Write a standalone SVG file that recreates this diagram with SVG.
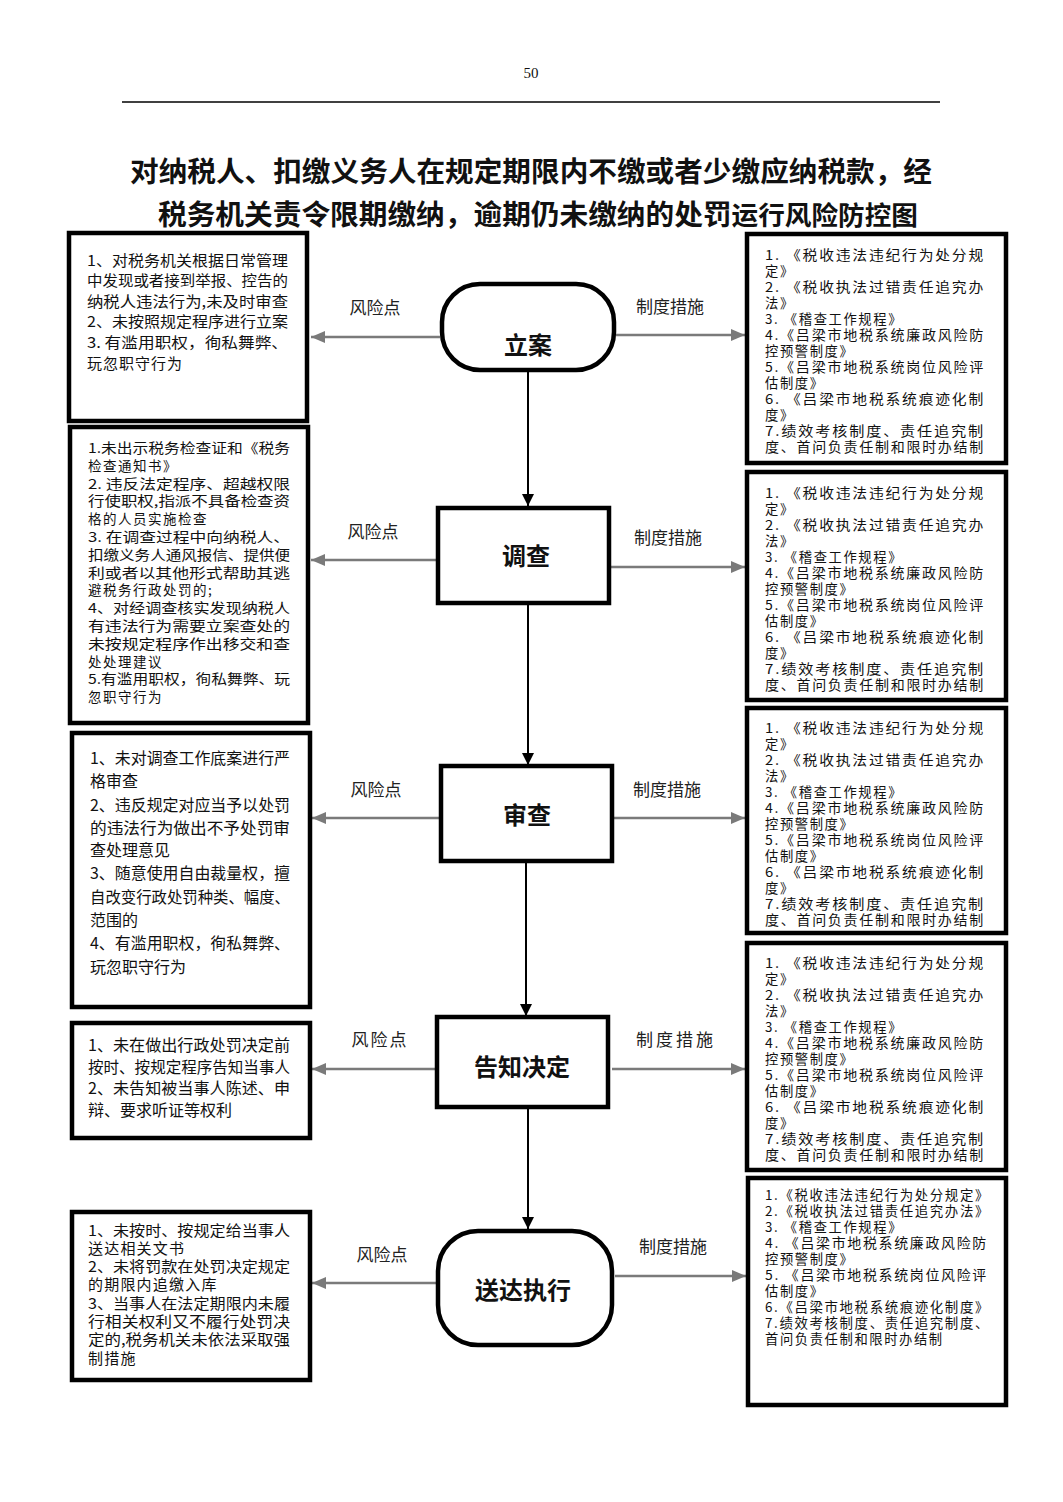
<svg xmlns="http://www.w3.org/2000/svg" width="1063" height="1502" viewBox="0 0 1063 1502">
<style>
.bg{fill:#fff}
.box{fill:#fff;stroke:#000;stroke-width:4.5}
.node{fill:#fff;stroke:#000;stroke-width:4.5}
.cjk{font-family:"Noto Sans CJK SC","Noto Sans",sans-serif;fill:#111}
.t135{font-size:13.5px}
.t15{font-size:15px}
.t16{font-size:16px}
.pol{font-size:13.3px;letter-spacing:1.6px}
.lbl{font-size:17px;fill:#222;text-anchor:middle}
.nt{font-size:24px;font-weight:bold;text-anchor:middle}
.title{font-size:28px;font-weight:bold;text-anchor:middle}
.flow{stroke:#000;stroke-width:2;fill:none;marker-end:url(#ab)}
.side{stroke:#7a7a7a;stroke-width:2.5;fill:none;marker-end:url(#ag)}
</style>
<defs>
<marker id="ab" markerUnits="userSpaceOnUse" markerWidth="12" markerHeight="12" refX="12" refY="6" orient="auto"><path d="M0,0 L12,6 L0,12 z" fill="#000"/></marker>
<marker id="ag" markerUnits="userSpaceOnUse" markerWidth="14" markerHeight="12" refX="14" refY="6" orient="auto"><path d="M0,0 L14,6 L0,12 z" fill="#7a7a7a"/></marker>
</defs>
<rect class="bg" x="0" y="0" width="1063" height="1502"/>

<g id="header">
<text x="531" y="78" font-family="Liberation Serif,serif" font-size="15" text-anchor="middle" fill="#111">50</text>
<line x1="122" y1="102" x2="940" y2="102" stroke="#000" stroke-width="1.5"/>
</g>

<g id="title" class="cjk title">
<text x="531" y="182" textLength="802" lengthAdjust="spacingAndGlyphs">对纳税人、扣缴义务人在规定期限内不缴或者少缴应纳税款，经</text>
<text x="538" y="225" textLength="760" lengthAdjust="spacingAndGlyphs">税务机关责令限期缴纳，逾期仍未缴纳的处罚<tspan font-size="26">运行风险防控图</tspan></text>
</g>

<g id="connectors">
<line class="flow" x1="528" y1="372" x2="528" y2="506"/>
<line class="flow" x1="528" y1="605" x2="528" y2="765"/>
<line class="flow" x1="526" y1="863" x2="526" y2="1016"/>
<line class="flow" x1="528" y1="1109" x2="528" y2="1229"/>
<line class="side" x1="440" y1="337" x2="311" y2="337"/>
<line class="side" x1="616" y1="335" x2="745" y2="335"/>
<line class="side" x1="436" y1="560" x2="311" y2="560"/>
<line class="side" x1="611" y1="567" x2="745" y2="567"/>
<line class="side" x1="439" y1="818" x2="312" y2="818"/>
<line class="side" x1="614" y1="818" x2="745" y2="818"/>
<line class="side" x1="435" y1="1069" x2="312" y2="1069"/>
<line class="side" x1="612" y1="1069" x2="745" y2="1069"/>
<line class="side" x1="438" y1="1283" x2="312" y2="1283"/>
<line class="side" x1="615" y1="1276" x2="746" y2="1276"/>
<g class="cjk lbl">
<text x="375" y="314">风险点</text>
<text x="670" y="313">制度措施</text>
<text x="373" y="538">风险点</text>
<text x="668" y="544">制度措施</text>
<text x="376" y="796">风险点</text>
<text x="667" y="796">制度措施</text>
<text x="380" y="1046" letter-spacing="2">风险点</text>
<text x="676" y="1046" letter-spacing="3">制度措施</text>
<text x="382" y="1261">风险点</text>
<text x="673" y="1253">制度措施</text>
</g>
</g>

<g id="n-lian">
<rect class="node" x="442" y="284" width="172" height="86" rx="38" ry="38"/>
<text class="cjk nt" x="528" y="354">立案</text>
</g>
<g id="n-diaocha">
<rect class="node" x="438" y="508" width="171" height="95"/>
<text class="cjk nt" x="526" y="565">调查</text>
</g>
<g id="n-shencha">
<rect class="node" x="441" y="766" width="171" height="95"/>
<text class="cjk nt" x="527" y="824">审查</text>
</g>
<g id="n-gaozhi">
<rect class="node" x="437" y="1017" width="171" height="90"/>
<text class="cjk nt" x="522" y="1076">告知决定</text>
</g>
<g id="n-songda">
<rect class="node" x="438" y="1231" width="174" height="114" rx="40" ry="40"/>
<text class="cjk nt" x="523" y="1299">送达执行</text>
</g>

<g id="risk1">
<rect class="box" x="69" y="233" width="238" height="188"/>
<g class="cjk t15">
<text x="87" y="265.5" textLength="201" lengthAdjust="spacingAndGlyphs">1、对税务机关根据日常管理</text>
<text x="87" y="286.1" textLength="201" lengthAdjust="spacingAndGlyphs">中发现或者接到举报、控告的</text>
<text x="87" y="306.7" textLength="201" lengthAdjust="spacingAndGlyphs">纳税人违法行为,未及时审查</text>
<text x="87" y="327.3" textLength="201" lengthAdjust="spacingAndGlyphs">2、未按照规定程序进行立案</text>
<text x="87" y="347.9" textLength="201" lengthAdjust="spacingAndGlyphs">3. 有滥用职权，徇私舞弊、</text>
<text x="87" y="368.5" letter-spacing="1">玩忽职守行为</text>
</g>
</g>

<g id="risk2">
<rect class="box" x="70" y="427" width="238" height="296"/>
<g class="cjk t135">
<text x="88" y="453" textLength="202" lengthAdjust="spacingAndGlyphs">1.未出示税务检查证和《税务</text>
<text x="88" y="470.8" letter-spacing="1.5">检查通知书》</text>
<text x="88" y="488.6" textLength="202" lengthAdjust="spacingAndGlyphs">2.  违反法定程序、超越权限</text>
<text x="88" y="506.4" textLength="202" lengthAdjust="spacingAndGlyphs">行使职权,指派不具备检查资</text>
<text x="88" y="524.2" letter-spacing="1.5">格的人员实施检查</text>
<text x="88" y="542" textLength="202" lengthAdjust="spacingAndGlyphs">3.  在调查过程中向纳税人、</text>
<text x="88" y="559.8" textLength="202" lengthAdjust="spacingAndGlyphs">扣缴义务人通风报信、提供便</text>
<text x="88" y="577.6" textLength="202" lengthAdjust="spacingAndGlyphs">利或者以其他形式帮助其逃</text>
<text x="88" y="595.4" letter-spacing="1.5">避税务行政处罚的;</text>
<text x="88" y="613.2" textLength="202" lengthAdjust="spacingAndGlyphs">4、对经调查核实发现纳税人</text>
<text x="88" y="631" textLength="202" lengthAdjust="spacingAndGlyphs">有违法行为需要立案查处的</text>
<text x="88" y="648.8" textLength="202" lengthAdjust="spacingAndGlyphs">未按规定程序作出移交和查</text>
<text x="88" y="666.6" letter-spacing="1.5">处处理建议</text>
<text x="88" y="684.4" textLength="202" lengthAdjust="spacingAndGlyphs">5.有滥用职权，徇私舞弊、玩</text>
<text x="88" y="702.2" letter-spacing="1.5">忽职守行为</text>
</g>
</g>

<g id="risk3">
<rect class="box" x="72" y="733" width="238" height="274"/>
<g class="cjk t16">
<text x="90" y="764" textLength="200" lengthAdjust="spacingAndGlyphs">1、未对调查工作底案进行严</text>
<text x="90" y="787">格审查</text>
<text x="90" y="811" textLength="200" lengthAdjust="spacingAndGlyphs">2、违反规定对应当予以处罚</text>
<text x="90" y="834" textLength="200" lengthAdjust="spacingAndGlyphs">的违法行为做出不予处罚审</text>
<text x="90" y="856">查处理意见</text>
<text x="90" y="879" textLength="200" lengthAdjust="spacingAndGlyphs">3、随意使用自由裁量权，擅</text>
<text x="90" y="903" textLength="200" lengthAdjust="spacingAndGlyphs">自改变行政处罚种类、幅度、</text>
<text x="90" y="926">范围的</text>
<text x="90" y="949" textLength="200" lengthAdjust="spacingAndGlyphs">4、有滥用职权，徇私舞弊、</text>
<text x="90" y="973">玩忽职守行为</text>
</g>
</g>

<g id="risk4">
<rect class="box" x="72" y="1023" width="238" height="115"/>
<g class="cjk t16">
<text x="88" y="1051" textLength="202" lengthAdjust="spacingAndGlyphs">1、未在做出行政处罚决定前</text>
<text x="88" y="1073" textLength="202" lengthAdjust="spacingAndGlyphs">按时、按规定程序告知当事人</text>
<text x="88" y="1094" textLength="202" lengthAdjust="spacingAndGlyphs">2、未告知被当事人陈述、申</text>
<text x="88" y="1116">辩、要求听证等权利</text>
</g>
</g>

<g id="risk5">
<rect class="box" x="72" y="1212" width="238" height="168"/>
<g class="cjk t15">
<text x="88" y="1235.5" textLength="202" lengthAdjust="spacingAndGlyphs">1、未按时、按规定给当事人</text>
<text x="88" y="1253.8" letter-spacing="1.2">送达相关文书</text>
<text x="88" y="1272.1" textLength="202" lengthAdjust="spacingAndGlyphs">2、未将罚款在处罚决定规定</text>
<text x="88" y="1290.4" letter-spacing="1.2">的期限内追缴入库</text>
<text x="88" y="1308.7" textLength="202" lengthAdjust="spacingAndGlyphs">3、当事人在法定期限内未履</text>
<text x="88" y="1327" textLength="202" lengthAdjust="spacingAndGlyphs">行相关权利又不履行处罚决</text>
<text x="88" y="1345.3" textLength="202" lengthAdjust="spacingAndGlyphs">定的,税务机关未依法采取强</text>
<text x="88" y="1363.6" letter-spacing="1.2">制措施</text>
</g>
</g>

<g id="policy1">
<rect class="box" x="747" y="234" width="259" height="229"/>
<g class="cjk pol">
<text x="765" y="260" textLength="220" lengthAdjust="spacingAndGlyphs">1. 《税收违法违纪行为处分规</text>
<text x="765" y="276">定》</text>
<text x="765" y="292" textLength="220" lengthAdjust="spacingAndGlyphs">2. 《税收执法过错责任追究办</text>
<text x="765" y="308">法》</text>
<text x="765" y="324">3. 《稽查工作规程》</text>
<text x="765" y="340" textLength="220" lengthAdjust="spacingAndGlyphs">4.《吕梁市地税系统廉政风险防</text>
<text x="765" y="356">控预警制度》</text>
<text x="765" y="372" textLength="220" lengthAdjust="spacingAndGlyphs">5.《吕梁市地税系统岗位风险评</text>
<text x="765" y="388">估制度》</text>
<text x="765" y="404" textLength="220" lengthAdjust="spacingAndGlyphs">6. 《吕梁市地税系统痕迹化制</text>
<text x="765" y="420">度》</text>
<text x="765" y="436" textLength="220" lengthAdjust="spacingAndGlyphs">7.绩效考核制度、责任追究制</text>
<text x="765" y="452" textLength="220" lengthAdjust="spacingAndGlyphs">度、首问负责任制和限时办结制</text>
</g>
</g>

<g id="policy2">
<rect class="box" x="747" y="472" width="259" height="228"/>
<g class="cjk pol">
<text x="765" y="498" textLength="220" lengthAdjust="spacingAndGlyphs">1. 《税收违法违纪行为处分规</text>
<text x="765" y="514">定》</text>
<text x="765" y="530" textLength="220" lengthAdjust="spacingAndGlyphs">2. 《税收执法过错责任追究办</text>
<text x="765" y="546">法》</text>
<text x="765" y="562">3. 《稽查工作规程》</text>
<text x="765" y="578" textLength="220" lengthAdjust="spacingAndGlyphs">4.《吕梁市地税系统廉政风险防</text>
<text x="765" y="594">控预警制度》</text>
<text x="765" y="610" textLength="220" lengthAdjust="spacingAndGlyphs">5.《吕梁市地税系统岗位风险评</text>
<text x="765" y="626">估制度》</text>
<text x="765" y="642" textLength="220" lengthAdjust="spacingAndGlyphs">6. 《吕梁市地税系统痕迹化制</text>
<text x="765" y="658">度》</text>
<text x="765" y="674" textLength="220" lengthAdjust="spacingAndGlyphs">7.绩效考核制度、责任追究制</text>
<text x="765" y="690" textLength="220" lengthAdjust="spacingAndGlyphs">度、首问负责任制和限时办结制</text>
</g>
</g>

<g id="policy3">
<rect class="box" x="747" y="708" width="259" height="225"/>
<g class="cjk pol">
<text x="765" y="733" textLength="220" lengthAdjust="spacingAndGlyphs">1. 《税收违法违纪行为处分规</text>
<text x="765" y="749">定》</text>
<text x="765" y="765" textLength="220" lengthAdjust="spacingAndGlyphs">2. 《税收执法过错责任追究办</text>
<text x="765" y="781">法》</text>
<text x="765" y="797">3. 《稽查工作规程》</text>
<text x="765" y="813" textLength="220" lengthAdjust="spacingAndGlyphs">4.《吕梁市地税系统廉政风险防</text>
<text x="765" y="829">控预警制度》</text>
<text x="765" y="845" textLength="220" lengthAdjust="spacingAndGlyphs">5.《吕梁市地税系统岗位风险评</text>
<text x="765" y="861">估制度》</text>
<text x="765" y="877" textLength="220" lengthAdjust="spacingAndGlyphs">6. 《吕梁市地税系统痕迹化制</text>
<text x="765" y="893">度》</text>
<text x="765" y="909" textLength="220" lengthAdjust="spacingAndGlyphs">7.绩效考核制度、责任追究制</text>
<text x="765" y="925" textLength="220" lengthAdjust="spacingAndGlyphs">度、首问负责任制和限时办结制</text>
</g>
</g>

<g id="policy4">
<rect class="box" x="747" y="943" width="259" height="227"/>
<g class="cjk pol">
<text x="765" y="968" textLength="220" lengthAdjust="spacingAndGlyphs">1. 《税收违法违纪行为处分规</text>
<text x="765" y="984">定》</text>
<text x="765" y="1000" textLength="220" lengthAdjust="spacingAndGlyphs">2. 《税收执法过错责任追究办</text>
<text x="765" y="1016">法》</text>
<text x="765" y="1032">3. 《稽查工作规程》</text>
<text x="765" y="1048" textLength="220" lengthAdjust="spacingAndGlyphs">4.《吕梁市地税系统廉政风险防</text>
<text x="765" y="1064">控预警制度》</text>
<text x="765" y="1080" textLength="220" lengthAdjust="spacingAndGlyphs">5.《吕梁市地税系统岗位风险评</text>
<text x="765" y="1096">估制度》</text>
<text x="765" y="1112" textLength="220" lengthAdjust="spacingAndGlyphs">6. 《吕梁市地税系统痕迹化制</text>
<text x="765" y="1128">度》</text>
<text x="765" y="1144" textLength="220" lengthAdjust="spacingAndGlyphs">7.绩效考核制度、责任追究制</text>
<text x="765" y="1160" textLength="220" lengthAdjust="spacingAndGlyphs">度、首问负责任制和限时办结制</text>
</g>
</g>

<g id="policy5">
<rect class="box" x="748" y="1178" width="258" height="227"/>
<g class="cjk pol">
<text x="765" y="1200" textLength="225" lengthAdjust="spacingAndGlyphs">1.《税收违法违纪行为处分规定》</text>
<text x="765" y="1216" textLength="225" lengthAdjust="spacingAndGlyphs">2.《税收执法过错责任追究办法》</text>
<text x="765" y="1232">3. 《稽查工作规程》</text>
<text x="765" y="1248" textLength="223" lengthAdjust="spacingAndGlyphs">4. 《吕梁市地税系统廉政风险防</text>
<text x="765" y="1264">控预警制度》</text>
<text x="765" y="1280" textLength="223" lengthAdjust="spacingAndGlyphs">5. 《吕梁市地税系统岗位风险评</text>
<text x="765" y="1296">估制度》</text>
<text x="765" y="1312" textLength="225" lengthAdjust="spacingAndGlyphs">6.《吕梁市地税系统痕迹化制度》</text>
<text x="765" y="1328" textLength="225" lengthAdjust="spacingAndGlyphs">7.绩效考核制度、责任追究制度、</text>
<text x="765" y="1344">首问负责任制和限时办结制</text>
</g>
</g>
</svg>
